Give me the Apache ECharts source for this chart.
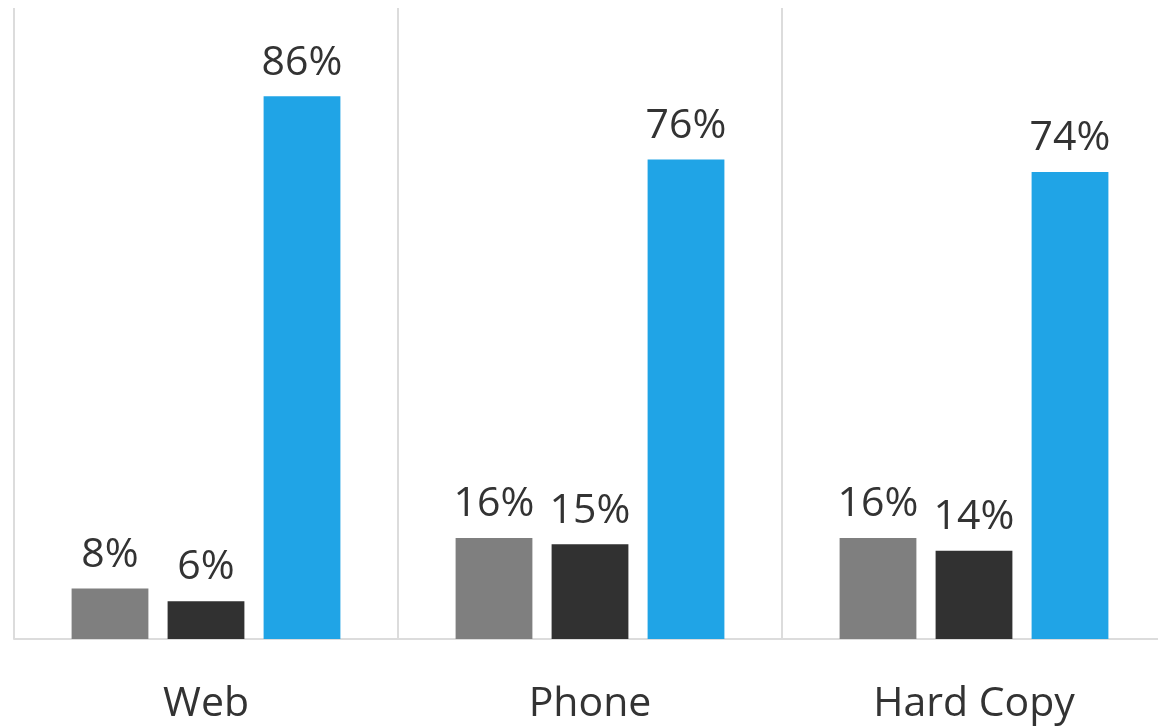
<!DOCTYPE html>
<html>
<head>
<meta charset="utf-8">
<script src="https://cdn.jsdelivr.net/npm/echarts@6/dist/echarts.min.js"></script>
<style>
  html, body { margin: 0; padding: 0; background: #fff; }
  #chart { width: 1158px; height: 728px; }
</style>
</head>
<body>
<div id="chart"></div>
<script>
// 数据
var categories = ['Web', 'Phone', 'Hard Copy'];
var seriesA = [8, 16, 16];
var seriesB = [6, 15, 14];
var seriesC = [86, 76, 74];

var font = '"Open Sans", "Noto Sans", sans-serif';

var labelOpt = {
    show: true,
    position: 'top',
    distance: 13,
    formatter: '{c}%',
    color: '#333',
    fontSize: 41,
    fontFamily: font
};

var makeSeries = function(data, color) {
    return {
        type: 'bar',
        data: data,
        barGap: '25%',
        barCategoryGap: '30%',
        itemStyle: { color: color },
        label: labelOpt
    };
};

var myChart = echarts.init(document.getElementById('chart'));
myChart.setOption({
    animation: false,
    backgroundColor: '#fff',
    grid: {
        left: 14,
        right: -8,
        top: 8,
        bottom: 89,
        containLabel: false,
        outerBoundsMode: 'none'
    },
    xAxis: {
        type: 'category',
        data: categories,
        axisTick: { show: false },
        axisLine: { lineStyle: { color: '#dcdcdc', width: 2 } },
        axisLabel: {
            color: '#333',
            fontSize: 41,
            fontFamily: font,
            margin: 45,
            interval: 0
        },
        splitLine: {
            show: true,
            interval: 0,
            lineStyle: { color: '#dcdcdc', width: 2 }
        }
    },
    yAxis: {
        type: 'value',
        min: 0,
        max: 100,
        show: false,
        splitLine: { show: false }
    },
    series: [
        makeSeries(seriesA, '#7f7f7f'),
        makeSeries(seriesB, '#313131'),
        makeSeries(seriesC, '#20a4e6')
    ]
});
</script>
</body>
</html>
